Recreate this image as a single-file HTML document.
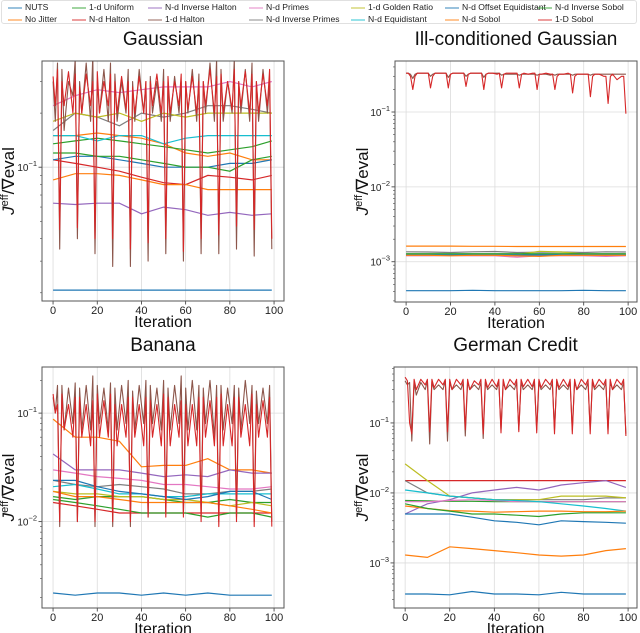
<!DOCTYPE html>
<html><head><meta charset="utf-8">
<style>
html,body{margin:0;padding:0;background:#fff;}
body{width:640px;height:633px;position:relative;overflow:hidden;font-family:"Liberation Sans",sans-serif;}
#legend{position:absolute;left:1px;top:0;width:636px;height:24px;border:1px solid #e0e0e0;border-radius:3px;box-sizing:border-box;}
.le{position:absolute;font-size:8.6px;color:#222;white-space:nowrap;line-height:10px;}
.le i{position:absolute;left:-17px;top:5px;width:14px;height:1.5px;opacity:.45;}
svg{position:absolute;left:0;top:0;}
</style></head>
<body>
<div id="legend"></div>
<svg id="chart" width="640" height="633"></svg>
<script>
const seriesNames = ["NUTS","No Jitter","1-d Uniform","N-d Halton","N-d Inverse Halton","1-d Halton","N-d Primes","N-d Inverse Primes","1-d Golden Ratio","N-d Equidistant","N-d Offset Equidistant","N-d Sobol","N-d Inverse Sobol","1-D Sobol"];
const seriesColors = ["#1f77b4","#ff7f0e","#2ca02c","#d62728","#9467bd","#8c564b","#e377c2","#7f7f7f","#bcbd22","#17becf","#1f77b4","#ff7f0e","#2ca02c","#d62728"];
// smooth series order (indices into seriesNames)
const smoothIdx = [0,1,2,3,4,6,7,8,9,10,11,12];
const smoothX = [0,10,20,30,40,50,60,70,80,90,99];
const xTicks = [0,20,40,60,80,100];

const gaussSmooth = [
 [0.0207,0.0207,0.0207,0.0207,0.0207,0.0207,0.0207,0.0207,0.0207,0.0207,0.0207],
 [0.15,0.15,0.155,0.15,0.145,0.135,0.12,0.115,0.12,0.11,0.11],
 [0.135,0.14,0.145,0.14,0.135,0.13,0.125,0.12,0.125,0.13,0.14],
 [0.11,0.105,0.1,0.095,0.088,0.082,0.08,0.09,0.088,0.085,0.09],
 [0.063,0.062,0.063,0.063,0.055,0.06,0.058,0.054,0.056,0.054,0.055],
 [0.22,0.25,0.27,0.26,0.27,0.28,0.28,0.28,0.3,0.28,0.3],
 [0.16,0.2,0.19,0.17,0.2,0.19,0.2,0.22,0.22,0.21,0.2],
 [0.18,0.2,0.19,0.2,0.18,0.2,0.19,0.2,0.2,0.2,0.2],
 [0.15,0.15,0.14,0.15,0.15,0.135,0.145,0.15,0.15,0.15,0.15],
 [0.11,0.115,0.115,0.11,0.105,0.1,0.1,0.1,0.105,0.105,0.11],
 [0.085,0.092,0.092,0.09,0.085,0.08,0.08,0.075,0.075,0.075,0.075],
 [0.12,0.12,0.115,0.115,0.11,0.105,0.1,0.1,0.095,0.11,0.115]
];
const illSmooth = [
 [4.1e-4,4.1e-4,4.1e-4,4.15e-4,4.1e-4,4.1e-4,4.1e-4,4.1e-4,4.15e-4,4.1e-4,4.1e-4],
 [1.62e-3,1.62e-3,1.62e-3,1.61e-3,1.61e-3,1.6e-3,1.6e-3,1.6e-3,1.6e-3,1.6e-3,1.6e-3],
 [1.25e-3,1.25e-3,1.26e-3,1.25e-3,1.25e-3,1.27e-3,1.25e-3,1.26e-3,1.25e-3,1.25e-3,1.25e-3],
 [1.22e-3,1.22e-3,1.23e-3,1.22e-3,1.22e-3,1.22e-3,1.22e-3,1.22e-3,1.22e-3,1.22e-3,1.22e-3],
 [1.25e-3,1.24e-3,1.25e-3,1.26e-3,1.25e-3,1.2e-3,1.24e-3,1.25e-3,1.25e-3,1.22e-3,1.25e-3],
 [1.2e-3,1.2e-3,1.21e-3,1.2e-3,1.2e-3,1.15e-3,1.2e-3,1.2e-3,1.2e-3,1.18e-3,1.2e-3],
 [1.36e-3,1.35e-3,1.33e-3,1.36e-3,1.37e-3,1.33e-3,1.34e-3,1.35e-3,1.33e-3,1.36e-3,1.35e-3],
 [1.25e-3,1.25e-3,1.26e-3,1.25e-3,1.25e-3,1.25e-3,1.38e-3,1.35e-3,1.27e-3,1.25e-3,1.25e-3],
 [1.24e-3,1.24e-3,1.24e-3,1.24e-3,1.24e-3,1.24e-3,1.24e-3,1.24e-3,1.24e-3,1.24e-3,1.24e-3],
 [1.23e-3,1.23e-3,1.23e-3,1.23e-3,1.23e-3,1.23e-3,1.23e-3,1.23e-3,1.23e-3,1.23e-3,1.23e-3],
 [1.22e-3,1.22e-3,1.2e-3,1.22e-3,1.22e-3,1.2e-3,1.18e-3,1.22e-3,1.22e-3,1.22e-3,1.22e-3],
 [1.28e-3,1.28e-3,1.28e-3,1.28e-3,1.28e-3,1.28e-3,1.28e-3,1.28e-3,1.28e-3,1.28e-3,1.28e-3]
];
const bananaSmooth = [
 [0.0022,0.0021,0.0022,0.0022,0.0021,0.0022,0.0021,0.0022,0.0021,0.0021,0.0021],
 [0.088,0.06,0.06,0.055,0.032,0.033,0.033,0.038,0.03,0.03,0.028],
 [0.017,0.016,0.017,0.017,0.017,0.016,0.015,0.015,0.016,0.015,0.015],
 [0.015,0.014,0.013,0.012,0.012,0.012,0.012,0.012,0.012,0.012,0.012],
 [0.042,0.03,0.03,0.03,0.028,0.026,0.027,0.026,0.03,0.028,0.028],
 [0.03,0.028,0.026,0.025,0.024,0.022,0.022,0.021,0.02,0.02,0.021],
 [0.024,0.022,0.021,0.022,0.021,0.02,0.018,0.018,0.019,0.019,0.02],
 [0.019,0.018,0.018,0.017,0.017,0.016,0.016,0.015,0.014,0.015,0.014],
 [0.021,0.022,0.02,0.018,0.018,0.017,0.017,0.018,0.018,0.018,0.018],
 [0.024,0.024,0.021,0.019,0.018,0.017,0.016,0.017,0.019,0.019,0.016],
 [0.019,0.017,0.017,0.016,0.015,0.015,0.015,0.015,0.014,0.013,0.012],
 [0.016,0.015,0.014,0.013,0.012,0.012,0.012,0.011,0.012,0.012,0.011]
];
const germanSmooth = [
 [3.6e-4,3.6e-4,3.5e-4,3.9e-4,3.6e-4,3.6e-4,3.5e-4,3.8e-4,3.6e-4,3.6e-4,3.6e-4],
 [1.3e-3,1.2e-3,1.7e-3,1.6e-3,1.5e-3,1.4e-3,1.3e-3,1.25e-3,1.3e-3,1.5e-3,1.6e-3],
 [0.0078,0.0077,0.0076,0.0076,0.0075,0.0075,0.0075,0.0075,0.0075,0.0075,0.0075],
 [0.015,0.015,0.015,0.015,0.015,0.015,0.015,0.015,0.015,0.015,0.015],
 [0.005,0.007,0.008,0.01,0.011,0.012,0.011,0.013,0.014,0.015,0.012],
 [0.0075,0.0075,0.0078,0.008,0.0078,0.0075,0.0075,0.0075,0.0075,0.0075,0.0075],
 [0.015,0.01,0.009,0.0085,0.008,0.008,0.008,0.008,0.008,0.0085,0.0085],
 [0.026,0.015,0.009,0.0085,0.008,0.008,0.008,0.009,0.009,0.009,0.0085],
 [0.011,0.01,0.009,0.0085,0.008,0.0078,0.0075,0.007,0.0065,0.006,0.0055],
 [0.005,0.005,0.005,0.0045,0.004,0.0038,0.0035,0.004,0.0039,0.0038,0.0037],
 [0.0065,0.006,0.0056,0.0055,0.0053,0.0054,0.0055,0.0055,0.0054,0.0054,0.0055],
 [0.007,0.006,0.0055,0.005,0.005,0.0048,0.0046,0.005,0.0052,0.0052,0.0052]
];
// oscillating series (1-d Halton, 1-D Sobol)
const spikeX = [0,1,2, 3,4,5,7,9,10, 11,12,13,15,17,18, 19,20,21,23,25,26, 27,28,29,31,33,34, 35,36,37,39,41,42, 43,44,45,47,49,50, 51,52,53,55,57,58, 59,60,61,63,65,66, 67,68,69,71,73,74, 75,76,77,79,81,82, 83,84,85,87,89,90, 91,92,93,95,97,98, 99];
const gaussHalton1d = [0.3,0.18,0.38, 0.035,0.35,0.16,0.3,0.25,0.4, 0.04,0.3,0.2,0.38,0.18,0.42, 0.033,0.3,0.2,0.35,0.18,0.38, 0.028,0.33,0.18,0.3,0.2,0.35, 0.028,0.3,0.18,0.35,0.2,0.3, 0.03,0.32,0.2,0.3,0.18,0.35, 0.033,0.3,0.18,0.32,0.2,0.3, 0.03,0.3,0.2,0.35,0.18,0.33, 0.033,0.3,0.2,0.38,0.18,0.4, 0.033,0.35,0.18,0.3,0.2,0.4, 0.035,0.3,0.2,0.35,0.18,0.38, 0.032,0.3,0.18,0.35,0.2,0.3, 0.035];
const gaussSobol1d = [0.32,0.22,0.35, 0.045,0.3,0.22,0.34,0.2,0.33, 0.046,0.28,0.2,0.33,0.22,0.3, 0.04,0.34,0.2,0.3,0.22,0.33, 0.04,0.3,0.2,0.32,0.21,0.3, 0.035,0.28,0.2,0.32,0.2,0.3, 0.038,0.3,0.22,0.33,0.2,0.3, 0.04,0.32,0.2,0.3,0.22,0.33, 0.034,0.3,0.21,0.32,0.2,0.3, 0.04,0.3,0.22,0.35,0.2,0.32, 0.042,0.33,0.2,0.3,0.21,0.35, 0.047,0.3,0.22,0.34,0.2,0.33, 0.045,0.3,0.2,0.33,0.22,0.35, 0.04];
const illHalton1d = [0.33,0.33,0.32, 0.28,0.32,0.33,0.33,0.33,0.33, 0.3,0.32,0.33,0.33,0.33,0.33, 0.29,0.32,0.33,0.33,0.33,0.33, 0.3,0.32,0.33,0.33,0.33,0.33, 0.29,0.32,0.33,0.33,0.33,0.33, 0.31,0.32,0.32,0.32,0.32,0.32, 0.31,0.32,0.32,0.32,0.32,0.32, 0.31,0.32,0.32,0.32,0.31,0.32, 0.31,0.32,0.32,0.32,0.32,0.32, 0.31,0.32,0.32,0.32,0.32,0.32, 0.31,0.32,0.32,0.32,0.32,0.32, 0.32,0.32,0.32,0.32,0.32,0.32, 0.32];
const illSobol1d = [0.33,0.33,0.3, 0.2,0.3,0.33,0.33,0.33,0.33, 0.21,0.3,0.33,0.33,0.33,0.33, 0.21,0.32,0.33,0.33,0.33,0.33, 0.22,0.32,0.33,0.33,0.33,0.33, 0.2,0.32,0.33,0.33,0.32,0.33, 0.21,0.32,0.33,0.33,0.33,0.33, 0.21,0.32,0.33,0.32,0.33,0.33, 0.2,0.32,0.32,0.33,0.32,0.32, 0.2,0.3,0.32,0.32,0.33,0.32, 0.18,0.3,0.32,0.32,0.32,0.32, 0.16,0.3,0.32,0.32,0.3,0.3, 0.13,0.3,0.32,0.27,0.3,0.3, 0.095];
const bananaHalton1d = [0.14,0.1,0.18, 0.009,0.18,0.07,0.17,0.08,0.19, 0.01,0.17,0.07,0.18,0.07,0.22, 0.009,0.18,0.08,0.17,0.07,0.19, 0.009,0.17,0.07,0.18,0.08,0.2, 0.009,0.16,0.07,0.18,0.08,0.2, 0.011,0.18,0.08,0.17,0.07,0.2, 0.012,0.17,0.07,0.18,0.08,0.22, 0.012,0.17,0.07,0.2,0.07,0.18, 0.011,0.17,0.08,0.2,0.06,0.18, 0.01,0.18,0.07,0.17,0.08,0.18, 0.011,0.17,0.07,0.2,0.08,0.18, 0.01,0.16,0.08,0.17,0.08,0.18, 0.01];
const bananaSobol1d = [0.15,0.1,0.12, 0.01,0.15,0.07,0.12,0.06,0.14, 0.01,0.14,0.06,0.12,0.05,0.13, 0.01,0.15,0.06,0.13,0.06,0.15, 0.01,0.12,0.05,0.12,0.06,0.14, 0.01,0.14,0.06,0.12,0.05,0.14, 0.011,0.13,0.06,0.12,0.05,0.15, 0.011,0.14,0.05,0.12,0.06,0.13, 0.011,0.12,0.05,0.12,0.05,0.14, 0.01,0.14,0.06,0.13,0.05,0.14, 0.009,0.15,0.05,0.12,0.05,0.14, 0.01,0.14,0.06,0.12,0.05,0.15, 0.009,0.12,0.06,0.13,0.06,0.14, 0.009];
const germanHalton1d = [0.4,0.35,0.38, 0.055,0.38,0.25,0.38,0.3,0.4, 0.05,0.38,0.3,0.35,0.3,0.4, 0.055,0.38,0.3,0.35,0.3,0.38, 0.065,0.38,0.3,0.35,0.3,0.38, 0.06,0.38,0.3,0.35,0.3,0.38, 0.08,0.38,0.3,0.35,0.3,0.38, 0.08,0.38,0.3,0.35,0.3,0.38, 0.08,0.38,0.3,0.35,0.3,0.38, 0.08,0.38,0.3,0.35,0.3,0.38, 0.08,0.38,0.3,0.35,0.3,0.38, 0.08,0.38,0.3,0.35,0.3,0.38, 0.08,0.38,0.3,0.35,0.3,0.38, 0.07];
const germanSobol1d = [0.45,0.4,0.1, 0.07,0.42,0.3,0.42,0.35,0.42, 0.075,0.42,0.32,0.42,0.35,0.42, 0.075,0.42,0.3,0.42,0.35,0.42, 0.08,0.42,0.3,0.4,0.35,0.42, 0.07,0.42,0.32,0.42,0.33,0.42, 0.072,0.42,0.3,0.42,0.35,0.42, 0.075,0.42,0.33,0.42,0.33,0.42, 0.072,0.42,0.32,0.42,0.35,0.42, 0.07,0.42,0.32,0.42,0.33,0.42, 0.07,0.42,0.3,0.42,0.35,0.42, 0.07,0.42,0.32,0.42,0.35,0.42, 0.07,0.42,0.3,0.42,0.35,0.42, 0.065];

const panels = [
 {key:"gaussian",title:"Gaussian",L:42,T:61,R:284,B:301,xmin:-5,xmax:104.5,ymin:0.018,ymax:0.39,dec:[-1],smooth:gaussSmooth,h1:gaussHalton1d,s1:gaussSobol1d,ylx:14},
 {key:"ill-conditioned",title:"Ill-conditioned Gaussian",L:395,T:61,R:637,B:302,xmin:-5,xmax:104,ymin:2.9e-4,ymax:0.48,dec:[-1,-2,-3],smooth:illSmooth,h1:illHalton1d,s1:illSobol1d,ylx:368},
 {key:"banana",title:"Banana",L:42,T:367,R:284,B:608,xmin:-5,xmax:104.5,ymin:0.0016,ymax:0.266,dec:[-1,-2],smooth:bananaSmooth,h1:bananaHalton1d,s1:bananaSobol1d,ylx:14},
 {key:"german-credit",title:"German Credit",L:394,T:367,R:637,B:608,xmin:-5,xmax:104,ymin:2.27e-4,ymax:0.63,dec:[-1,-2,-3],smooth:germanSmooth,h1:germanHalton1d,s1:germanSobol1d,ylx:368}
];

const NS="http://www.w3.org/2000/svg";
const svg=document.getElementById('chart');
function mk(tag,attrs,parent){const e=document.createElementNS(NS,tag);for(const k in attrs)e.setAttribute(k,attrs[k]);(parent||svg).appendChild(e);return e;}

const leg=document.getElementById('legend');
const colX=[23,87,163,264,366,460,553];
seriesNames.forEach((n,i)=>{
  const d=document.createElement('div');d.className='le';
  
  
  d.style.left=colX[Math.floor(i/2)]+'px';d.style.top=(i%2?13:1)+'px';
  d.innerHTML='<i style="background:'+seriesColors[i]+'"></i>'+n;
  leg.appendChild(d);
});

panels.forEach(p=>{
  const g=mk('g',{});
  
  
  const sx=v=>p.L+(v-p.xmin)/(p.xmax-p.xmin)*(p.R-p.L);
  const sy=v=>p.T+(Math.log10(p.ymax)-Math.log10(v))/(Math.log10(p.ymax)-Math.log10(p.ymin))*(p.B-p.T);
  xTicks.forEach(t=>{
    const gl=mk('line',{x1:sx(t),x2:sx(t),y1:p.T,y2:p.B,stroke:'#dcdcdc','stroke-width':0.8},g);
    
    
    mk('line',{x1:sx(t),x2:sx(t),y1:p.B,y2:p.B+3.5,stroke:'#333','stroke-width':0.8},g);
    const tl=mk('text',{x:sx(t),y:p.B+13,'font-size':11,'text-anchor':'middle',fill:'#222'},g);
    tl.textContent=t;
    
    
  });
  for(let e=-5;e<=0;e++){for(let m=2;m<=9;m++){const v=m*Math.pow(10,e);if(v>p.ymin&&v<p.ymax){mk('line',{x1:p.L-2,x2:p.L,y1:sy(v),y2:sy(v),stroke:'#444','stroke-width':0.6},g);}}}
  p.dec.forEach(e=>{
    const v=Math.pow(10,e),y=sy(v);
    const gl=mk('line',{x1:p.L,x2:p.R,y1:y,y2:y,stroke:'#dcdcdc','stroke-width':0.8},g);
    
    
    mk('line',{x1:p.L-3.5,x2:p.L,y1:y,y2:y,stroke:'#333','stroke-width':0.8},g);
    const tl=mk('text',{x:p.L-5,y:y+4,'font-size':10,'text-anchor':'end',fill:'#222'},g);
    tl.innerHTML='10<tspan dy="-5" font-size="7.5">−'+(-e)+'</tspan>';
    
    
  });
  const clip=mk('clipPath',{id:'c'+p.key},g);mk('rect',{x:p.L,y:p.T,width:p.R-p.L,height:p.B-p.T},clip);
  const lg=mk('g',{'clip-path':'url(#c'+p.key+')'},g);
  p.smooth.forEach((arr,k)=>{
    const pts=arr.map((v,j)=>sx(smoothX[j]).toFixed(1)+','+sy(v).toFixed(1)).join(' ');
    const pl=mk('polyline',{points:pts,fill:'none',stroke:seriesColors[smoothIdx[k]],'stroke-width':1.2},lg);
    
    
  });
  [[p.h1,5],[p.s1,13]].forEach(([arr,ci])=>{
    const pts=arr.map((v,j)=>sx(spikeX[j]).toFixed(1)+','+sy(v).toFixed(1)).join(' ');
    const pl=mk('polyline',{points:pts,fill:'none',stroke:seriesColors[ci],'stroke-width':1.1,'stroke-linejoin':'round'},lg);
    
    
  });
  const fr=mk('rect',{x:p.L,y:p.T,width:p.R-p.L,height:p.B-p.T,fill:'none',stroke:'#555','stroke-width':1},g);
  
  
  const cx=(p.L+p.R)/2;
  const ti=mk('text',{x:cx,y:p.T-16,'font-size':19,'text-anchor':'middle',fill:'#111'},g);
  ti.textContent=p.title;
  
  
  const xl=mk('text',{x:cx,y:p.B+26,'font-size':16,'text-anchor':'middle',fill:'#111'},g);
  xl.textContent='Iteration';
  
  
  const cy=(p.T+p.B)/2;
  const yl=mk('text',{x:p.ylx,y:cy,'font-size':17,'text-anchor':'middle',fill:'#111',transform:'rotate(-90 '+p.ylx+' '+cy+')'},g);
  yl.innerHTML='<tspan font-style="italic">J</tspan><tspan dy="-6" font-size="11">eff</tspan><tspan dy="6">/∇eval</tspan>';
  
  
});
</script>
</body></html>
